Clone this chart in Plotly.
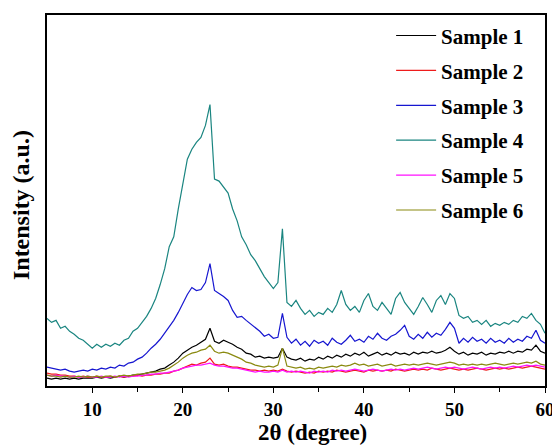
import plotly.graph_objects as go

two_theta = [5 + 0.5 * i for i in range(111)]

sample1 = [8, 7, 8, 7, 8, 7, 8, 7, 8, 8,
           8, 9, 8, 9, 8, 9, 10, 9, 10, 11,
           11, 12, 13, 14, 15, 17, 18, 21, 24, 28,
           33, 36, 39, 41, 44, 47, 58, 45, 43, 46,
           44, 42, 39, 37, 33, 32, 29, 30, 28, 29,
           28, 29, 38, 29, 27, 26, 28, 25, 27, 26,
           29, 27, 30, 28, 31, 29, 32, 30, 33, 31,
           34, 30, 32, 34, 31, 33, 31, 34, 32, 33,
           31, 34, 32, 34, 33, 35, 33, 34, 36, 39,
           35, 32, 34, 31, 33, 32, 34, 31, 33, 32,
           34, 33, 35, 33, 35, 34, 37, 36, 41, 35, 33]

sample2 = [13, 12, 12, 11, 11, 10, 10, 9, 10, 9,
           9, 10, 9, 9, 10, 9, 10, 9, 10, 10,
           11, 10, 11, 11, 12, 12, 13, 13, 15, 16,
           18, 20, 22, 21, 23, 24, 28, 22, 21, 22,
           20, 19, 19, 18, 17, 16, 16, 15, 16, 15,
           16, 15, 17, 15, 14, 15, 14, 13, 14, 13,
           15, 14, 15, 14, 16, 15, 14, 15, 16, 15,
           14, 16, 15, 16, 15, 16, 15, 17, 16, 15,
           16, 17, 16, 17, 16, 18, 17, 16, 17, 18,
           17, 16, 17, 16, 17, 18, 17, 16, 17, 18,
           17, 18, 17, 18, 19, 18, 19, 20, 19, 18, 17]

sample3 = [19, 18, 17, 16, 17, 15, 14, 15, 16, 15,
           17, 16, 18, 17, 19, 18, 21, 20, 23, 24,
           27, 29, 33, 38, 42, 47, 53, 60, 66, 74,
           83, 92, 99, 96, 97, 104, 123, 96, 93, 90,
           86, 76, 69, 70, 66, 62, 59, 55, 50, 52,
           48, 49, 73, 49, 43, 47, 41, 45, 40, 46,
           43, 45, 41, 48, 44, 42, 46, 51, 45, 47,
           44, 50, 47, 53, 48, 46, 50, 52, 56, 61,
           50, 47, 52, 48, 54, 49, 53, 51, 57, 64,
           58, 43, 48, 44, 49, 45, 47, 43, 48, 44,
           46, 43, 48, 44, 47, 45, 50, 48, 56, 46, 43]

sample4 = [68, 64, 66, 58, 60, 55, 52, 48, 46, 42,
           38, 42, 39, 42, 40, 43, 41, 46, 48, 55,
           58, 64, 70, 78, 88, 102, 118, 140, 150, 178,
           205, 228, 238, 245, 250, 262, 283, 208, 206, 200,
           194, 178, 166, 150, 142, 132, 126, 118, 110, 104,
           98, 104, 158, 84, 80, 86, 78, 72, 76, 70,
           74, 72, 78, 74, 82, 96, 82, 76, 80, 74,
           86, 93, 80, 76, 84, 78, 72, 88, 94, 84,
           78, 72, 80, 89, 82, 74, 86, 91, 82, 93,
           88, 71, 68, 70, 64, 66, 62, 66, 60, 63,
           61, 64, 62, 66, 64, 70, 68, 73, 66, 62, 53]

sample5 = [11, 10, 11, 10, 10, 9, 10, 9, 9, 10,
           9, 9, 10, 9, 9, 10, 9, 10, 9, 10,
           10, 11, 11, 12, 12, 13, 13, 14, 15, 16,
           18, 19, 20, 21, 21, 22, 23, 21, 20, 20,
           19, 18, 18, 17, 16, 15, 14, 15, 14, 14,
           15, 14, 16, 14, 15, 14, 15, 14, 13, 15,
           14, 15, 14, 16, 15, 16, 15, 16, 17, 16,
           15, 16, 17, 16, 15, 16, 17, 16, 17, 16,
           17, 18, 17, 18, 19, 18, 17, 18, 19, 18,
           19, 18, 17, 18, 19, 18, 17, 18, 19, 18,
           19, 18, 19, 20, 19, 20, 21, 20, 21, 20, 19]

sample6 = [11, 10, 10, 9, 10, 9, 9, 10, 9, 10,
           9, 10, 9, 10, 10, 9, 10, 11, 10, 11,
           12, 12, 13, 14, 14, 15, 16, 18, 21, 24,
           28, 31, 33, 34, 36, 37, 41, 35, 33, 34,
           33, 31, 29, 27, 24, 23, 21, 20, 19, 20,
           19, 21, 38, 20, 19, 18, 19, 17, 18, 17,
           19, 18, 19, 20, 19, 21, 20, 21, 23, 21,
           22, 20, 21, 22, 20, 21, 22, 20, 21, 22,
           21, 22, 21, 22, 23, 22, 21, 22, 23, 24,
           23, 21, 22, 21, 22, 21, 22, 21, 22, 23,
           22, 21, 22, 23, 22, 23, 24, 23, 25, 22, 21]

names = ["Sample 1", "Sample 2", "Sample 3", "Sample 4", "Sample 5", "Sample 6"]
series = [sample1, sample2, sample3, sample4, sample5, sample6]
colors = ["#000000", "#ee1c1c", "#1616d0", "#1a8580", "#ff10ff", "#8a8a10"]

x_ticks = [10, 20, 30, 40, 50, 60]
x_minor = [15, 25, 35, 45, 55]

FONT = "Liberation Serif"

fig = go.Figure()
for name, ys, col in zip(names, series, colors):
    fig.add_trace(go.Scatter(
        x=two_theta, y=ys, mode="lines", name=name, legendgroup=name,
        line=dict(color=col, width=1.2),
    ))

fig.update_layout(
    width=552, height=437,
    margin=dict(l=39, r=14, t=5, b=59),
    paper_bgcolor="white", plot_bgcolor="white",
    showlegend=True,
    legend=dict(
        x=0.691, y=0.999, xanchor="left", yanchor="top",
        font=dict(family=FONT, size=21, color="black", weight="bold"),
        bgcolor="rgba(0,0,0,0)", borderwidth=0,
        tracegroupgap=4.6, itemwidth=40,
    ),
    xaxis=dict(
        range=[5, 60], tickvals=x_ticks, ticks="outside", ticklen=5, tickwidth=1.3,
        tickcolor="black",
        minor=dict(tickvals=x_minor, ticks="outside", ticklen=4, tickcolor="black", tickwidth=1.2),
        showline=True, linecolor="black", linewidth=1.5, mirror=True,
        showgrid=False, zeroline=False,
        tickfont=dict(family=FONT, size=19, color="black", weight="bold"),
    ),
    yaxis=dict(
        range=[0, 373], showticklabels=False, ticks="",
        showline=True, linecolor="black", linewidth=1.5, mirror=True,
        showgrid=False, zeroline=False,
    ),
    annotations=[
        dict(text="Intensity (a.u.)", xref="paper", yref="paper", x=-0.052, y=0.488,
             xanchor="center", yanchor="middle", textangle=-90, showarrow=False,
             font=dict(family=FONT, size=24, color="black", weight="bold")),
        dict(text="2θ (degree)", xref="paper", yref="paper", x=0.533, y=-0.125,
             xanchor="center", yanchor="middle", showarrow=False,
             font=dict(family=FONT, size=23, color="black", weight="bold")),
    ],
)

fig.write_html("out.html")
